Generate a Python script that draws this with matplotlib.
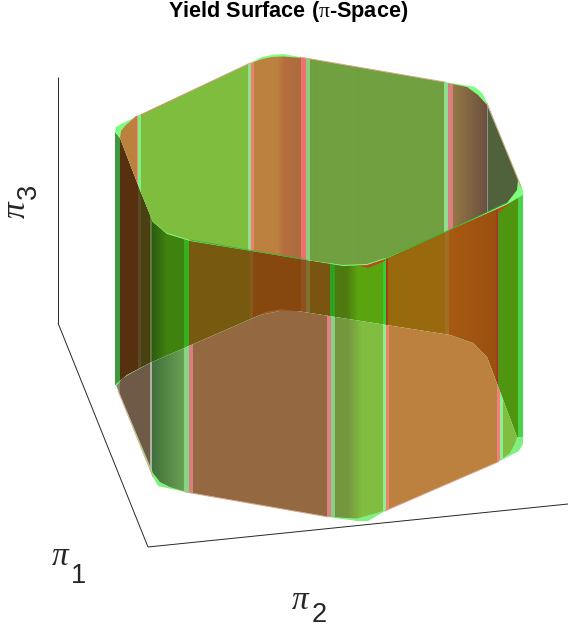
import numpy as np
import matplotlib
matplotlib.use("Agg")
import matplotlib.pyplot as plt
from matplotlib.colors import to_rgb
from matplotlib.patches import Polygon

plt.rcParams['mathtext.fontset'] = 'custom'
plt.rcParams['mathtext.it'] = 'Liberation Serif'
plt.rcParams['mathtext.rm'] = 'Liberation Serif'
plt.rcParams['mathtext.default'] = 'rm'

# Surface outlines
top_outer = [(115,132),(116,127),(121,124),(140,115),(250,63),(262,57),(272,55),(283,54),(300,57),(445,82),(475,87),(483,94),(487,103),(519,180),(523,191),
             (523,195),(506,205),(445,232),(385,259),(367,265),(343,266),(307,260),(190,241),(167,234),(153,222),(140,190),(120,138)]
top_inner = [(120,138),(121,131),(125,126),(136,116),(140,115),(250,63.5),(262,59),(272,57),(283,56.5),(303,58),(445,82.5),(467,87),(478,95),(487,105),(518,180),(517,190),(507,203),
             (445,232),(385,258),(367,264),(343,265),(307,260),(190,240),(167,233),(153,222),(140,190)]
bottom_outer = [(116,385),(153,477),(158,486),(185,492),(328,517),(357,521),(368,521),(385,511),(498,462),(519,451),(523,444),(523,437),
                (517,437),(487,357),(473,343),(450,335),(297,311),(280,311),(260,315),(150,363),(127,375),(116,384)]
bottom_inner = [(116.5,386),(153,473),(160,482),(170,487),(185,491.5),(328,516.5),(340,517.5),(357,518.5),(373,514),(385,510.5),(498,461.5),(510,453),(515,443),
                (517,437),(487,357),(473,343),(450,335),(297,311),(280,311),(260,315),(150,363),(128,375),(122,379),(118,384)]
body_outline = [(115,132),(120,138),(140,190),(153,222),(167,233),(190,240),(307,260),(343,265),(367,264),(385,258),(445,232),(506,203),(517,190),(523,190),
                (523,444),(517,437),(487,357),(473,343),(450,335),(297,311),(280,311),(260,315),(150,363),(127,375),(116,385),(115,385)]
red_under_top = [[(355,265),(370,264),(385,258),(385,261),(368,268)],[(497,209),(506,203),(517,188),(519,195),(510,203),(498,213)]]
red_over_bottom = [[(260,315),(280,311),(297,311),(310,313),(280,309),(265,312)],[(450,335),(473,343),(487,357),(490,370),(482,358),(470,347)]]

top_back_edges = [[(140,115),(250,63)],[(300,57),(445,82)],[(487,103),(521,187)]]
top_front_edges = [[(190,240),(307,260)],[(385,258),(445,232),(506,203)]]
bottom_edges = [[(118,391),(153,477)],[(185,492),(328,517)],[(385,511),(498,462)]]

# Vertical bands: start, end, colour at start, colour at end
top_bands = [
    (114,136.7,'#BC803F','#BC803F'),(136.7,138,'#F09080','#F09080'),(138,141,'#80F080','#80F080'),
    (141,248.5,'#7FBD3F','#7FBD3F'),(248.5,251,'#90E090','#90E090'),(251,254,'#F08070','#F08070'),
    (254,278,'#BC803F','#BC803F'),(278,284,'#BC803F','#B56E40'),(284,301.5,'#B56E40','#AD6C3E'),(301.5,306.5,'#F07070','#F07070'),
    (306.5,310.5,'#90CC80','#90CC80'),(310.5,444.5,'#70A040','#70A040'),(444.5,448.5,'#90DD90','#90DD90'),
    (448.5,453,'#D88080','#D88080'),(453,487,'#957845','#6B5040'),(487,488.5,'#909090','#909090'),
    (488.5,526,'#50623C','#50623C')]
body_bands = [
    (114,120,'#3E9A3E','#3E9A3E'),(120,138,'#57300F','#57300F'),(138,141.5,'#5A4A25','#5A4A25'),
    (141.5,150,'#4A4010','#4A4010'),(150,152,'#5F7A40','#5F7A40'),(152,167,'#2D5A10','#40820F'),
    (167,184,'#40820F','#40820F'),(184,189,'#35B020','#35B020'),(189,250,'#775A0F','#775A0F'),
    (250,253.5,'#855A1F','#855A1F'),(253.5,301.5,'#87480F','#87480F'),(301.5,306.5,'#90501F','#90501F'),
    (306.5,310.5,'#807030','#807030'),(310.5,330.5,'#7A5510','#7A5510'),(330.5,335,'#30A020','#30A020'),
    (335,347,'#4E7A10','#4E7A10'),(347,358,'#4E7A10','#5AA50F'),(358,383,'#5AA50F','#5AA50F'),(383,386,'#30D030','#30D030'),
    (386,388.5,'#A0401A','#A0401A'),(388.5,445,'#986A0D','#986A0D'),(445,449.5,'#A06E25','#A06E25'),
    (449.5,496,'#A85A10','#9A5010'),(496,498.5,'#A83525','#A83525'),(498.5,518,'#509510','#509510'),
    (518,526,'#4AD24A','#4AD24A')]
bottom_bands = [
    (114,120,'#8A8070','#8A8070'),(120,150,'#6F5A48','#6F5A48'),(150,152,'#B0B0A8','#B0B0A8'),
    (152,184,'#40703A','#6AA055'),(184,189,'#85D585','#85D585'),(189,193,'#D88080','#D88080'),
    (193,327,'#946840','#946840'),(327,331,'#E08080','#E08080'),(331,335,'#88D088','#88D088'),
    (335,347,'#75953F','#75953F'),(347,362,'#75953F','#80BD40'),(362,383,'#80BD40','#80BD40'),(383,386,'#90EE90','#90EE90'),
    (386,389,'#F08070','#F08070'),(389,497,'#BC803F','#BC803F'),(497,500,'#F08080','#F08080'),
    (500,503,'#90EE90','#90EE90'),(503,526,'#80BD40','#80BD40')]

axis_lines = [[(58,77),(58,323)],[(58,323),(148,547)],[(148,547),(568,504)]]
title_text = r"Yield Surface ($\pi$-Space)"

fig = plt.figure(figsize=(5.79,6.28), dpi=100)
ax = fig.add_axes([0,0,1,1])

def paint(bands, outline, z):
    xs = np.arange(114, 526, 0.25) + 0.125
    img = np.ones((1, xs.size, 3))
    for x0, x1, c0, c1 in bands:
        m = (xs >= x0) & (xs < x1)
        t = (xs[m]-x0)/(x1-x0)
        img[0, m] = np.outer(1-t, to_rgb(c0)) + np.outer(t, to_rgb(c1))
    poly = Polygon(outline, closed=True, fc='none', ec='none')
    ax.add_patch(poly)
    im = ax.imshow(img, extent=(114,526,628,0), aspect='auto', interpolation='nearest', zorder=z)
    im.set_clip_path(poly)

paint(body_bands, body_outline, 2)
for outline in red_under_top:
    ax.add_patch(Polygon(outline, closed=True, fc='#B84A20', ec='none', zorder=2.2))
for outline in red_over_bottom:
    ax.add_patch(Polygon(outline, closed=True, fc='#A05A25', ec='none', zorder=2.2))
ax.add_patch(Polygon(top_outer, closed=True, fc='#7FFF7F', ec='none', zorder=2.5))
ax.add_patch(Polygon(bottom_outer, closed=True, fc='#80F080', ec='none', zorder=2.5))
paint(top_bands, top_inner, 3)
paint(bottom_bands, bottom_inner, 3)

for seg in top_back_edges + bottom_edges:
    p = np.array(seg)
    ax.plot(p[:,0], p[:,1], color='#F08080', lw=0.6, alpha=0.8, zorder=4)
for seg in top_front_edges:
    p = np.array(seg)
    ax.plot(p[:,0], p[:,1], color='#30B030', lw=0.6, zorder=4)
for seg in axis_lines:
    p = np.array(seg)
    ax.plot(p[:,0], p[:,1], color='#262626', lw=0.7, zorder=1, solid_capstyle='butt')

ax.text(288, 11, title_text, family='Liberation Sans', weight='bold', fontsize=15.6, ha='center', va='center', color='black')

pi_kw = dict(family='Liberation Serif', style='italic', fontsize=24, color='#262626', zorder=5, rotation_mode='anchor', ha='left', va='baseline')
num_kw = dict(family='Liberation Sans', fontsize=19.5, color='#262626', zorder=5, rotation_mode='anchor', ha='left', va='baseline')
ax.text(52, 565, '\u03c0', **pi_kw)
ax.text(71, 583, '1', **num_kw)
ax.text(292, 609, '\u03c0', **pi_kw)
ax.text(312, 622, '2', **num_kw)
ax.text(25, 218, '\u03c0', rotation=90, **pi_kw)
ax.text(36, 199, '3', rotation=90, **num_kw)

ax.set_xlim(0,579)
ax.set_ylim(628,0)
ax.axis('off')
fig.savefig('out.png', dpi=100)
